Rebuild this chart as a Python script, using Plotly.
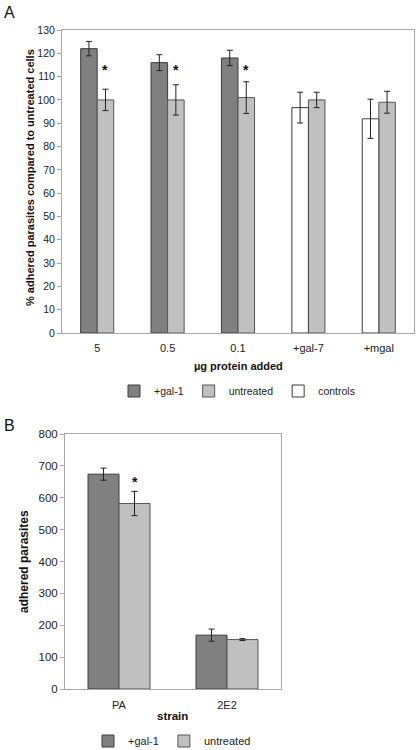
import plotly.graph_objects as go

# ---- Panel A data ----
cats_a = ["5", "0.5", "0.1", "+gal-7", "+mgal"]
gal1_a = [122, 116, 118, None, None]
gal1_a_err = [3.1, 3.4, 3.3, None, None]
controls_a = [None, None, None, 96.7, 91.9]
controls_a_err = [None, None, None, 6.6, 8.4]
untreated_a = [100, 100, 101, 100, 99]
untreated_a_err = [4.6, 6.5, 6.8, 3.3, 4.7]
yticks_a = list(range(0, 131, 10))
star_idx_a = [0, 1, 2]

# ---- Panel B data ----
cats_b = ["PA", "2E2"]
gal1_b = [674, 169]
gal1_b_err = [19, 19]
untreated_b = [582, 155]
untreated_b_err = [38, 3]
yticks_b = list(range(0, 801, 100))
star_idx_b = [0]

DARK = "#808080"
LIGHT = "#c0c0c0"
EDGE = "#3c3c3c"
AXC = "#a6a6a6"
FONT = "Liberation Sans, Arial, sans-serif"
W, H = 417, 750
wa = 0.235
wb = 0.287

def eb(v):
    return dict(type="data", array=v, color="#222222", thickness=1, width=3, visible=True)

fig = go.Figure()
fig.add_trace(go.Bar(x=cats_a, y=gal1_a, error_y=eb(gal1_a_err), name="+gal-1",
                     marker=dict(color=DARK, line=dict(color=EDGE, width=1)),
                     width=wa, offset=-wa, xaxis="x", yaxis="y", legend="legend"))
fig.add_trace(go.Bar(x=cats_a, y=untreated_a, error_y=eb(untreated_a_err), name="untreated",
                     marker=dict(color=LIGHT, line=dict(color="#555555", width=1)),
                     width=wa, offset=0, xaxis="x", yaxis="y", legend="legend"))
fig.add_trace(go.Bar(x=cats_a, y=controls_a, error_y=eb(controls_a_err), name="controls",
                     marker=dict(color="white", line=dict(color=EDGE, width=1)),
                     width=wa, offset=-wa, xaxis="x", yaxis="y", legend="legend"))

fig.add_trace(go.Bar(x=cats_b, y=gal1_b, error_y=eb(gal1_b_err), name="+gal-1",
                     marker=dict(color=DARK, line=dict(color=EDGE, width=1)),
                     width=wb, offset=-wb, xaxis="x2", yaxis="y2", legend="legend2"))
fig.add_trace(go.Bar(x=cats_b, y=untreated_b, error_y=eb(untreated_b_err), name="untreated",
                     marker=dict(color=LIGHT, line=dict(color="#555555", width=1)),
                     width=wb, offset=0, xaxis="x2", yaxis="y2", legend="legend2"))

ax_common = dict(showline=True, linecolor=AXC, linewidth=1, mirror=True, automargin=False,
                 showgrid=False, zeroline=False)

fig.update_layout(
    width=W, height=H, margin=dict(l=0, r=0, t=0, b=0, autoexpand=False),
    paper_bgcolor="white", plot_bgcolor="white",
    font=dict(family=FONT, color="#222222"),
    barmode="overlay",
    xaxis=dict(domain=[62/W, 414/W], anchor="y", ticks="", ticklabelstandoff=5, **ax_common,
               tickfont=dict(size=11, color="#222222")),
    yaxis=dict(domain=[1-333/H, 1-30/H], anchor="x", range=[0, 130], tickvals=yticks_a,
               ticks="outside", ticklen=4, tickcolor=AXC, **ax_common,
               tickfont=dict(size=10.5, color="#222222")),
    xaxis2=dict(domain=[65/W, 281/W], anchor="y2", ticks="", ticklabelstandoff=6, **ax_common,
                tickfont=dict(size=11, color="#222222")),
    yaxis2=dict(domain=[1-689/H, 1-434/H], anchor="x2", range=[0, 800], tickvals=yticks_b,
                ticks="outside", ticklen=4, tickcolor=AXC, **ax_common,
                tickfont=dict(size=11.5, color="#222222")),
    legend=dict(orientation="h", x=237/W, xanchor="center", y=1-391/H, yanchor="middle",
                font=dict(size=10.5), itemwidth=30, traceorder="normal"),
    legend2=dict(orientation="h", x=172/W, xanchor="center", y=1-741/H, yanchor="middle",
                 font=dict(size=11), itemwidth=30, traceorder="normal"),
)

def ptxt(text, px, py, size, angle=0, anchor="center"):
    return dict(x=px/W, y=1-py/H, xref="paper", yref="paper", text=text, showarrow=False,
                xanchor=anchor, yanchor="middle", textangle=angle,
                font=dict(size=size, color="#111111"))

ann = []
for i in star_idx_a:
    ann.append(dict(x=i + wa/2, y=113, xref="x", yref="y", text="<b>*</b>", showarrow=False,
                    font=dict(size=14, color="#111111")))
for i in star_idx_b:
    ann.append(dict(x=i + wb/2, y=650, xref="x2", yref="y2", text="<b>*</b>", showarrow=False,
                    font=dict(size=14, color="#111111")))
# panel letters
ann.append(ptxt("A", 2, 12, 16, anchor="left"))
ann.append(ptxt("B", 2, 425, 16, anchor="left"))
# axis titles
ann.append(ptxt("<b>% adhered parasites compared to untreated cells</b>", 30, 178, 11, angle=-90))
ann.append(ptxt("<b>µg protein added</b>", 238, 366, 11))
ann.append(ptxt("<b>adhered parasites</b>", 24, 562, 12, angle=-90))
ann.append(ptxt("<b>strain</b>", 172, 716, 11.5))
fig.update_layout(annotations=ann)

fig.write_html("out.html", config={"displayModeBar": False},
               post_script="document.body.style.margin='0';document.body.style.padding='0';")
